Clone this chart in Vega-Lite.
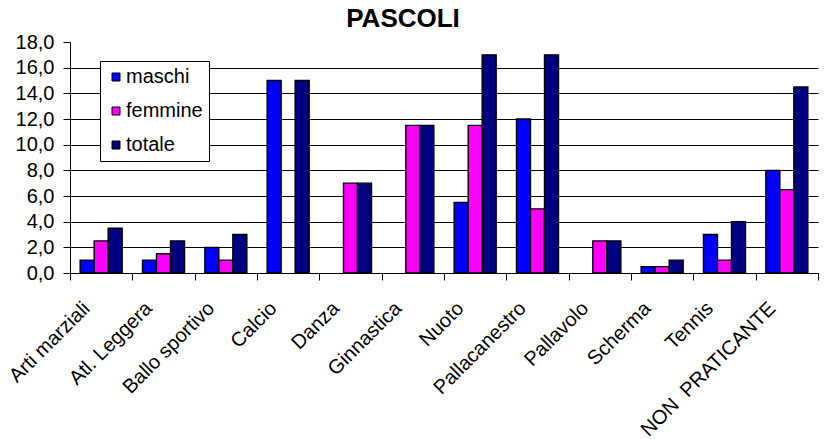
{
  "$schema": "https://vega.github.io/schema/vega-lite/v6.json",
  "width": 748,
  "height": 231,
  "autosize": {"type": "none"},
  "padding": {"left": 70, "top": 42, "right": 6, "bottom": 166},
  "background": "white",
  "title": {"text": "PASCOLI", "font": "Liberation Sans", "fontSize": 26, "fontWeight": "bold", "color": "black", "anchor": "middle", "dx": -41, "offset": 0},
  "config": {"view": {"stroke": null}, "font": "Liberation Sans"},
  "data": {"values": [
    {"cat": "Arti marziali", "serie": "maschi", "val": 1},
    {"cat": "Arti marziali", "serie": "femmine", "val": 2.5},
    {"cat": "Arti marziali", "serie": "totale", "val": 3.5},
    {"cat": "Atl. Leggera", "serie": "maschi", "val": 1},
    {"cat": "Atl. Leggera", "serie": "femmine", "val": 1.5},
    {"cat": "Atl. Leggera", "serie": "totale", "val": 2.5},
    {"cat": "Ballo sportivo", "serie": "maschi", "val": 2},
    {"cat": "Ballo sportivo", "serie": "femmine", "val": 1},
    {"cat": "Ballo sportivo", "serie": "totale", "val": 3},
    {"cat": "Calcio", "serie": "maschi", "val": 15},
    {"cat": "Calcio", "serie": "femmine", "val": 0},
    {"cat": "Calcio", "serie": "totale", "val": 15},
    {"cat": "Danza", "serie": "maschi", "val": 0},
    {"cat": "Danza", "serie": "femmine", "val": 7},
    {"cat": "Danza", "serie": "totale", "val": 7},
    {"cat": "Ginnastica", "serie": "maschi", "val": 0},
    {"cat": "Ginnastica", "serie": "femmine", "val": 11.5},
    {"cat": "Ginnastica", "serie": "totale", "val": 11.5},
    {"cat": "Nuoto", "serie": "maschi", "val": 5.5},
    {"cat": "Nuoto", "serie": "femmine", "val": 11.5},
    {"cat": "Nuoto", "serie": "totale", "val": 17},
    {"cat": "Pallacanestro", "serie": "maschi", "val": 12},
    {"cat": "Pallacanestro", "serie": "femmine", "val": 5},
    {"cat": "Pallacanestro", "serie": "totale", "val": 17},
    {"cat": "Pallavolo", "serie": "maschi", "val": 0},
    {"cat": "Pallavolo", "serie": "femmine", "val": 2.5},
    {"cat": "Pallavolo", "serie": "totale", "val": 2.5},
    {"cat": "Scherma", "serie": "maschi", "val": 0.5},
    {"cat": "Scherma", "serie": "femmine", "val": 0.5},
    {"cat": "Scherma", "serie": "totale", "val": 1},
    {"cat": "Tennis", "serie": "maschi", "val": 3},
    {"cat": "Tennis", "serie": "femmine", "val": 1},
    {"cat": "Tennis", "serie": "totale", "val": 4},
    {"cat": "NON \u00a0PRATICANTE", "serie": "maschi", "val": 8},
    {"cat": "NON \u00a0PRATICANTE", "serie": "femmine", "val": 6.5},
    {"cat": "NON \u00a0PRATICANTE", "serie": "totale", "val": 14.5}
  ]},
  "transform": [{"filter": "datum.val > 0"}],
  "mark": {"type": "bar", "stroke": "black", "strokeWidth": 1.4},
  "encoding": {
    "x": {
      "field": "cat", "type": "nominal", "sort": null,
      "scale": {"paddingInner": 0, "paddingOuter": 0},
      "axis": {
        "title": null, "labelAngle": -45, "labelAlign": "right", "labelBaseline": "middle",
        "labelFontSize": 20, "labelColor": "black", "labelPadding": 25, "labelOffset": -15, "labelLimit": 0,
        "tickBand": "extent", "tickColor": "black", "tickSize": 7,
        "domainColor": "black", "domainWidth": 1
      }
    },
    "xOffset": {
      "field": "serie", "type": "nominal",
      "scale": {"domain": ["maschi", "femmine", "totale"], "paddingInner": 0, "paddingOuter": 0.725}
    },
    "y": {
      "field": "val", "type": "quantitative",
      "scale": {"domain": [0, 18], "nice": false},
      "axis": {
        "title": null, "values": [0, 2, 4, 6, 8, 10, 12, 14, 16, 18],
        "labelExpr": "replace(format(datum.value, '.1f'), '.', ',')",
        "labelFontSize": 20, "labelColor": "black", "labelPadding": 9,
        "tickColor": "black", "tickSize": 7, "domainColor": "black",
        "grid": true, "gridColor": {"condition": {"test": "datum.value >= 18", "value": "transparent"}, "value": "black"},
        "gridWidth": 1
      }
    },
    "fill": {
      "field": "serie", "type": "nominal",
      "scale": {"domain": ["maschi", "femmine", "totale"], "range": ["#0000FF", "#FF00FF", "#000080"]},
      "legend": {
        "title": null, "orient": "none", "legendX": 30, "legendY": 19,
        "fillColor": "white", "strokeColor": "black", "padding": 6,
        "symbolType": "square", "symbolSize": 64, "symbolStrokeColor": "black", "symbolStrokeWidth": 1,
        "labelFontSize": 20, "labelColor": "black", "rowPadding": 14, "labelOffset": 0
      }
    }
  }
}
